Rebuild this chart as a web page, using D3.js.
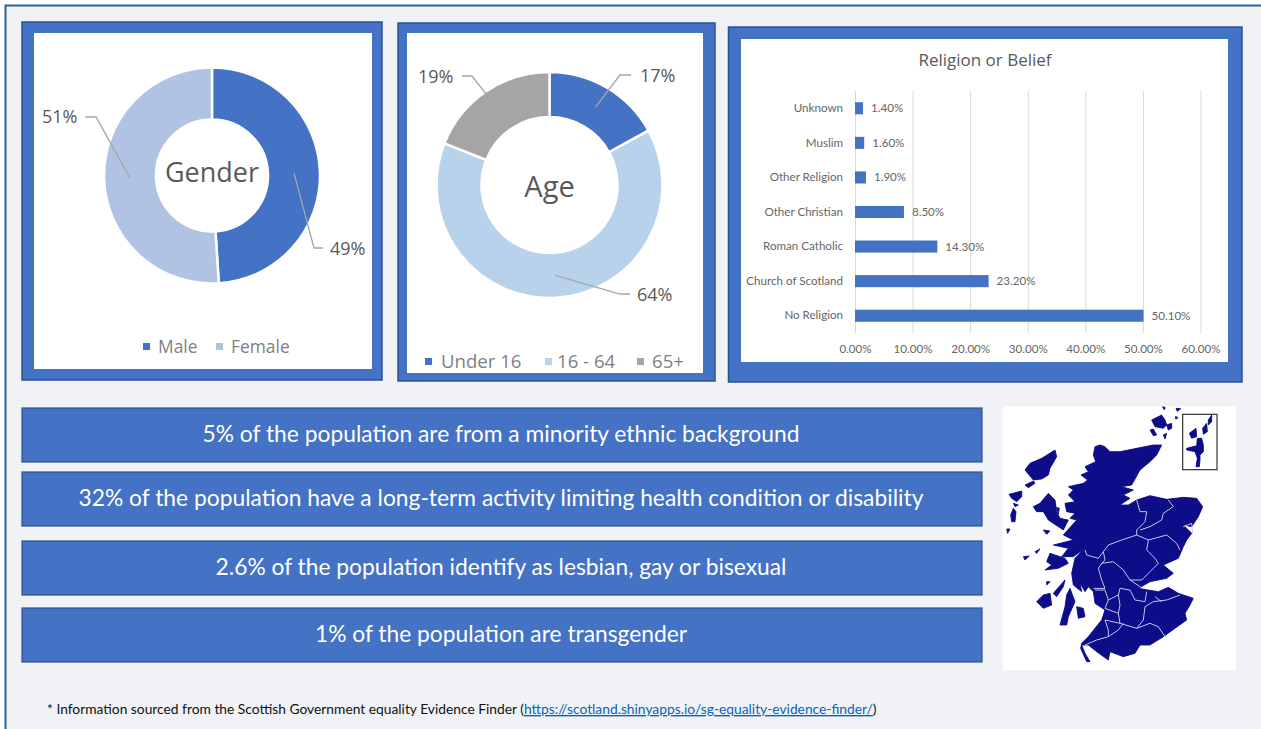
<!DOCTYPE html>
<html>
<head>
<meta charset="utf-8">
<script src="https://cdn.jsdelivr.net/npm/d3@7"></script>
<style>
  html, body { margin: 0; padding: 0; background: #fff; }
  svg { display: block; }
  .bar-axis path { display: none; }
  .bar-axis text { font-family: Lato; font-size: 11.6px; fill: #666; }
</style>
</head>
<body>
<div id="chart"></div>
<script>
//======================Data===================================================
const genderLabels = ['Male', 'Female'];
const genderValues = [49, 51];
const ageLabels = ['Under 16', '16 - 64', '65+'];
const ageValues = [17, 64, 19];
const religionLabels = ['Unknown', 'Muslim', 'Other Religion', 'Other Christian', 'Roman Catholic', 'Church of Scotland', 'No Religion'];
const religionValues = [1.4, 1.6, 1.9, 8.5, 14.3, 23.2, 50.1];
const religionTicks = [0, 10, 20, 30, 40, 50, 60];
const banners = [
  '5% of the population are from a minority ethnic background',
  '32% of the population have a long-term activity limiting health condition or disability',
  '2.6% of the population identify as lesbian, gay or bisexual',
  '1% of the population are transgender'
];

// map outlines, hand traced in map units
const mapLand = [
  // mainland
  [[315,140],[330,135],[345,140],[360,155],[390,155],[440,145],[490,135],[515,135],[500,165],[480,185],[450,210],[425,255],[395,260],[430,270],[400,285],[420,295],[390,315],[415,315],[440,300],[480,287],[530,298],[580,292],[620,295],[638,320],[625,350],[605,380],[580,375],[605,400],[590,420],[580,440],[565,475],[520,495],[550,520],[530,535],[480,545],[445,565],[505,575],[535,562],[565,580],[610,595],[600,615],[585,640],[590,660],[555,685],[520,710],[480,735],[450,735],[435,760],[400,770],[360,755],[355,780],[320,755],[295,735],[275,735],[285,760],[300,785],[290,785],[272,745],[275,730],[295,710],[335,660],[345,630],[315,610],[310,575],[295,560],[285,575],[270,550],[275,575],[250,555],[245,520],[255,475],[282,447],[250,470],[215,470],[235,445],[190,435],[250,420],[220,405],[260,360],[240,355],[255,340],[230,335],[225,310],[255,305],[235,285],[250,270],[235,260],[280,250],[293,240],[273,225],[295,215],[285,200],[317,185],[310,165]],
  // argyll side of the firth
  [[180,460],[225,475],[235,490],[205,505],[165,510],[185,495],[170,485]],
  // kintyre, arran
  [[240,565],[255,605],[235,650],[230,675],[210,675],[225,620],[230,585]],
  [[260,620],[280,625],[285,650],[265,655]],
  // islay, jura, colonsay
  [[140,605],[160,585],[180,580],[185,615],[160,625]],
  [[190,580],[225,540],[220,560],[200,590]],
  [[170,545],[180,545],[170,555]],
  [[135,455],[150,447],[140,460]],
  [[100,470],[118,468],[105,480]],
  // skye and small isles
  [[195,150],[200,170],[180,205],[175,225],[155,237],[130,240],[105,210],[120,190],[155,175]],
  [[105,255],[130,243],[135,250],[115,263]],
  // outer hebrides
  [[57,283],[95,273],[95,290],[80,305],[65,295]],
  [[70,310],[85,315],[75,320]],
  [[70,325],[78,335],[75,365],[65,365],[62,345]],
  [[50,387],[60,387],[53,400]],
  // west coast block
  [[130,320],[150,310],[175,280],[195,300],[200,335],[210,355],[235,360],[220,390],[175,360],[160,335],[140,335]],
  [[160,390],[180,393],[170,403]],
  [[200,322],[208,325],[205,342]],
  // orkney
  [[485,60],[515,45],[525,60],[530,75],[520,85],[495,80]],
  [[480,90],[490,87],[500,105],[490,107]],
  [[520,105],[530,100],[525,117]],
  [[530,75],[545,70],[545,85],[535,90]],
  [[518,20],[526,23],[522,29]],
  [[558,25],[572,26],[562,34]],
  [[556,50],[564,52],[558,58]],
  // shetland inset
  [[590,145],[620,137],[622,115],[635,115],[640,135],[640,155],[630,165],[630,180],[628,200],[618,200],[622,175],[615,155],[590,150]],
  [[598,100],[618,85],[620,110],[605,115]],
  [[638,85],[650,70],[652,95],[640,103]],
  [[655,60],[665,45],[665,65],[655,75]]
];
const mapBorders = [
  [[440,405],[395,420],[355,435],[340,455],[325,475],[290,465],[285,450]],
  [[475,420],[470,450],[495,475],[505,490],[480,515],[455,540],[420,540],[400,510],[370,485],[335,490],[325,505],[335,540],[345,565],[310,565]],
  [[440,405],[475,420],[530,405],[560,430],[570,450]],
  [[340,455],[345,480],[335,490]],
  [[420,540],[450,560]],
  [[315,570],[345,570],[355,600],[345,625],[385,640],[390,670],[440,685],[460,660],[465,620],[490,605],[530,600],[570,585]],
  [[355,600],[385,585],[390,565],[420,570],[435,600],[465,605],[470,575]],
  [[385,585],[390,615],[385,640]],
  [[495,590],[515,605]],
  [[345,660],[355,690],[355,710],[320,720],[285,735]],
  [[345,660],[390,670]],
  [[440,685],[480,670],[505,680],[525,710]],
  [[355,710],[385,690],[400,670]],
  [[440,300],[450,335],[470,335],[465,365],[440,390],[440,405]],
  [[535,300],[550,320],[520,340],[515,360],[480,380],[450,390]],
  [[580,380],[605,370],[608,400]]
];

//======================Page===================================================
const w = 1261;
const h = 729;
const blue = '#4472c4';
const edge = '#2f528f';
const uiFont = '"Open Sans"';

const svg = d3.select('#chart').append('svg')
  .attr('width', w)
  .attr('height', h);

svg.append('defs').append('filter')
  .attr('id', 'soft')
  .append('feGaussianBlur')
  .attr('stdDeviation', 0.45);

// page background and its thin frame
svg.append('rect').attr('x', 5).attr('y', 5).attr('width', w).attr('height', h).attr('fill', '#f0f2f5');
svg.append('path').attr('d', 'M5.5,729V5.5H1261').attr('fill', 'none').attr('stroke', '#2f5f8f').attr('stroke-width', 2);

const panel = (x0, y0, x1, y1, ix0, iy0, ix1, iy1) => {
  svg.append('rect')
    .attr('x', x0).attr('y', y0).attr('width', x1 - x0).attr('height', y1 - y0)
    .attr('fill', blue).attr('stroke', edge).attr('stroke-width', 1.5);
  svg.append('rect')
    .attr('x', ix0).attr('y', iy0).attr('width', ix1 - ix0).attr('height', iy1 - iy0)
    .attr('fill', '#fff');
};

//======================Donuts=================================================
const buildDonut = opt => {
  let pie = d3.pie().sort(null).value(d => d)(opt.values);
  let arc = d3.arc().innerRadius(opt.inner).outerRadius(opt.outer);
  let g = svg.append('g').attr('transform', `translate(${opt.cx},${opt.cy})`);

  g.selectAll('path')
    .data(pie)
    .join('path')
    .attr('d', arc)
    .attr('fill', (d, i) => opt.colors[i])
    .attr('stroke', '#fff')
    .attr('stroke-width', 2.5);

  // leader lines run from the middle of each slice to its label
  let line = d3.line();
  pie.forEach((d, i) => {
    let c = arc.centroid(d);
    let start = [c[0] + opt.cx, c[1] + opt.cy];
    svg.append('path')
      .attr('d', line([start, ...opt.leaders[i]]))
      .attr('fill', 'none')
      .attr('stroke', '#a6a6a6')
      .attr('stroke-width', 1.3);
    svg.append('text')
      .attr('x', opt.labelPos[i][0])
      .attr('y', opt.labelPos[i][1])
      .attr('font-family', uiFont)
      .attr('font-size', 18)
      .attr('fill', '#595959')
      .text(d.value + '%');
  });

  svg.append('text')
    .attr('x', opt.cx).attr('y', opt.titleY)
    .attr('text-anchor', 'middle')
    .attr('font-family', uiFont)
    .attr('font-size', opt.titleSize)
    .attr('fill', '#595959')
    .text(opt.title);

  // legend
  opt.labels.forEach((l, i) => {
    let lg = opt.legend[i];
    svg.append('rect')
      .attr('x', lg[0]).attr('y', opt.legendY - 10)
      .attr('width', 7).attr('height', 7)
      .attr('fill', opt.colors[i]);
    svg.append('text')
      .attr('x', lg[1]).attr('y', opt.legendY)
      .attr('font-family', uiFont)
      .attr('font-size', opt.legendSize)
      .attr('fill', '#7f7f7f')
      .text(l);
  });
};

panel(22, 22, 382, 380, 34, 33, 372, 369);
buildDonut({
  values: genderValues, labels: genderLabels, title: 'Gender',
  cx: 212, cy: 175.5, outer: 108, inner: 56,
  colors: ['#4472c4', '#b0c3e3'],
  leaders: [[[314, 248], [323, 248]], [[96, 117], [85, 117]]],
  labelPos: [[330, 255], [42, 123]],
  titleY: 182, titleSize: 27,
  legend: [[143, 158], [216, 231]], legendY: 353, legendSize: 17.4
});

panel(398, 23, 715, 381, 407, 33, 703, 373);
buildDonut({
  values: ageValues, labels: ageLabels, title: 'Age',
  cx: 549.5, cy: 185, outer: 113, inner: 68,
  colors: ['#4472c4', '#b9d2ec', '#a5a5a5'],
  leaders: [[[620, 75], [631, 75]], [[620, 294], [630, 294]], [[472, 76], [462, 76]]],
  labelPos: [[640, 82], [637, 301], [418, 83]],
  titleY: 197, titleSize: 29,
  legend: [[425, 441], [545, 557], [637, 652]], legendY: 368, legendSize: 18.6
});

//======================Religion bars==========================================
panel(728.5, 27, 1242, 382, 741, 39, 1228, 362);

svg.append('text')
  .attr('x', 985).attr('y', 66)
  .attr('text-anchor', 'middle')
  .attr('font-family', uiFont)
  .attr('font-size', 17)
  .attr('fill', '#595959')
  .text('Religion or Belief');

const xScale = d3.scaleLinear().domain([0, 60]).range([855, 1200.5]);
const yScale = d3.scaleBand().domain(religionLabels).range([91, 333]).paddingInner(0.65).paddingOuter(0.325);

const xAxisGen = d3.axisBottom(xScale)
  .tickValues(religionTicks)
  .tickSize(-242)
  .tickPadding(12)
  .tickFormat(d => d.toFixed(2) + '%');

const xAxis = svg.append('g')
  .attr('class', 'bar-axis')
  .attr('transform', 'translate(0,333)')
  .call(xAxisGen);
xAxis.selectAll('line').attr('stroke', '#d9d9d9');

const yAxis = svg.append('g')
  .attr('class', 'bar-axis')
  .attr('transform', 'translate(855,0)')
  .call(d3.axisLeft(yScale).tickSize(0).tickPadding(12));

svg.selectAll('.bar')
  .data(religionValues)
  .join('rect')
  .attr('class', 'bar')
  .attr('x', xScale(0))
  .attr('y', (d, i) => yScale(religionLabels[i]))
  .attr('width', d => xScale(d) - xScale(0))
  .attr('height', yScale.bandwidth())
  .attr('fill', blue);

svg.selectAll('.bar-value')
  .data(religionValues)
  .join('text')
  .attr('class', 'bar-value')
  .attr('x', d => xScale(d) + 8)
  .attr('y', (d, i) => yScale(religionLabels[i]) + yScale.bandwidth() / 2 + 4)
  .attr('font-family', 'Lato')
  .attr('font-size', 11.6)
  .attr('fill', '#666')
  .text(d => d.toFixed(2) + '%');

//======================Banners================================================
const bannerY = [408, 472, 541, 608];

banners.forEach((b, i) => {
  svg.append('rect')
    .attr('x', 22).attr('y', bannerY[i])
    .attr('width', 960).attr('height', 54)
    .attr('fill', blue).attr('stroke', edge).attr('stroke-width', 1.2);
  svg.append('text')
    .attr('x', 501).attr('y', bannerY[i] + 34)
    .attr('text-anchor', 'middle')
    .attr('font-family', 'Lato')
    .attr('font-size', 22.8)
    .attr('fill', '#fff')
    .text(b);
});

//======================Map====================================================
svg.append('rect').attr('x', 1003).attr('y', 406).attr('width', 233).attr('height', 264).attr('fill', '#fff');

const mapX = d3.scaleLinear().domain([0, 780]).range([990, 1250]);
const mapY = d3.scaleLinear().domain([0, 840]).range([400, 680]);
const mapLine = d3.line().x(d => mapX(d[0])).y(d => mapY(d[1]));

const mapGroup = svg.append('g').attr('filter', 'url(#soft)');

mapGroup.selectAll('.land')
  .data(mapLand)
  .join('path')
  .attr('class', 'land')
  .attr('d', d => mapLine(d) + 'Z')
  .attr('fill', '#08088a')
  .attr('stroke', '#08088a')
  .attr('stroke-width', 0.8)
  .attr('stroke-linejoin', 'round');

mapGroup.selectAll('.region')
  .data(mapBorders)
  .join('path')
  .attr('class', 'region')
  .attr('d', d => mapLine(d))
  .attr('fill', 'none')
  .attr('stroke', '#c8c8ee')
  .attr('stroke-width', 1);

// shetland inset box
mapGroup.append('rect')
  .attr('x', mapX(578)).attr('y', mapY(43))
  .attr('width', mapX(681) - mapX(578))
  .attr('height', mapY(209) - mapY(43))
  .attr('fill', 'none')
  .attr('stroke', '#333')
  .attr('stroke-width', 1.2);

//======================Footnote===============================================
const note = svg.append('text')
  .attr('x', 47).attr('y', 714)
  .attr('font-family', 'Lato')
  .attr('font-size', 13.8)
  .attr('fill', '#111');
note.append('tspan').text('* Information sourced from the Scottish Government equality Evidence Finder (');
note.append('tspan')
  .attr('fill', '#0563c1')
  .attr('text-decoration', 'underline')
  .text('https://scotland.shinyapps.io/sg-equality-evidence-finder/');
note.append('tspan').text(')');
</script>
</body>
</html>
